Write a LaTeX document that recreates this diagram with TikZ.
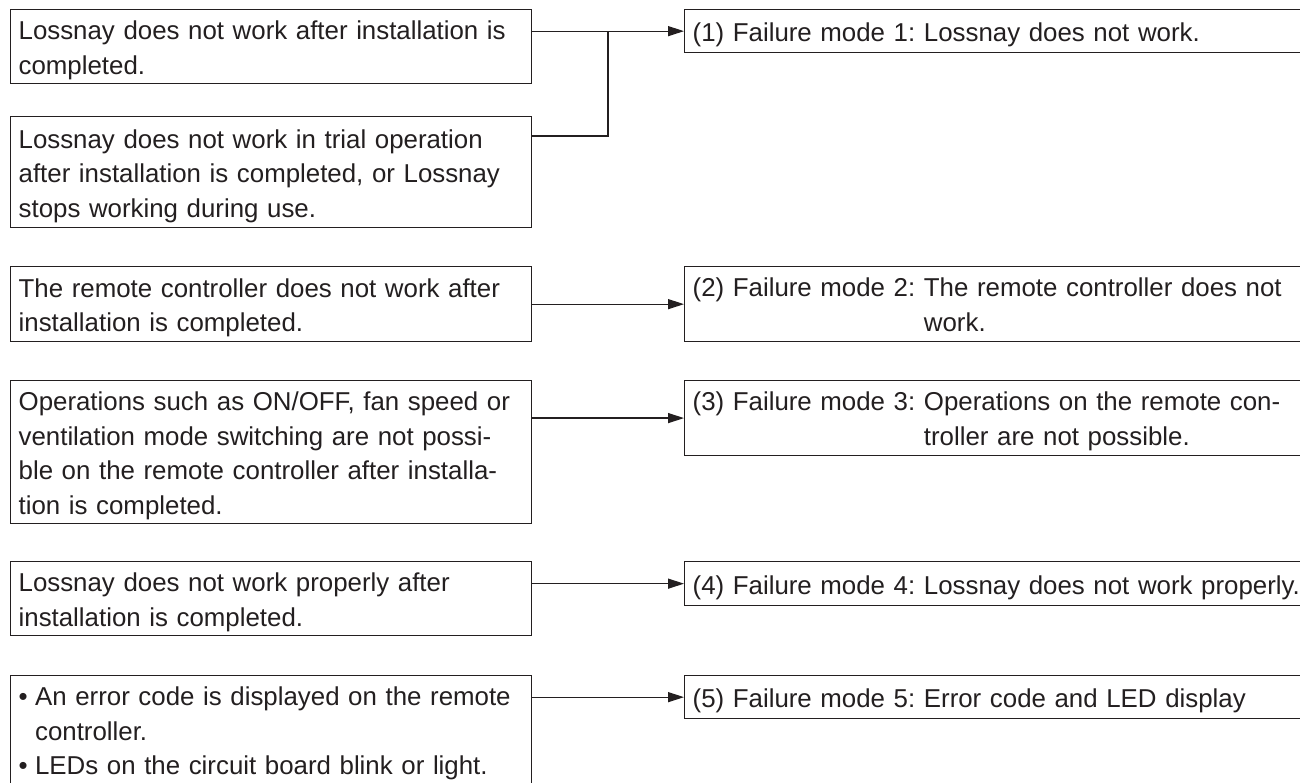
\documentclass[tikz,border=0pt]{standalone}
\usepackage{fontspec}
\newfontfamily\boxfont{Liberation Sans}
\usetikzlibrary{arrows.meta}
\definecolor{ink}{HTML}{231F20}
\tikzset{
  fbox/.style={draw=ink, text=ink, line width=1.3pt, anchor=north west,
    inner xsep=8pt, inner ysep=0pt, align=left,
    font=\boxfont\fontsize{25.85pt}{34.5pt}\selectfont\frenchspacing,
    execute at begin node={\rule{0pt}{30pt}},
    execute at end node={\rule[-9pt]{0pt}{9pt}}},
  lbox/.style={fbox, minimum width=521pt, text width=505pt},
  rbox/.style={fbox, minimum width=700pt, text width=684pt},
  conn/.style={draw=ink, line width=1.3pt},
  arr/.style={conn, -{Triangle[length=16pt,width=10pt]}},
}
\begin{document}
\begin{tikzpicture}[x=1pt,y=-1pt]
\fill[white] (0,0) rectangle (1300,782);
\useasboundingbox (0,0) rectangle (1300,782);

% left column
\node[lbox, minimum height=74pt] (B1) at (10,9)
  {Lossnay does not work after installation is\\completed.};
\node[lbox, minimum height=111pt] (B2) at (10,116)
  {Lossnay does not work in trial operation\\after installation is completed, or Lossnay\\stops working during use.};
\node[lbox, minimum height=75pt] (B3) at (10,266)
  {The remote controller does not work after\\installation is completed.};
\node[lbox, minimum height=142pt] (B4) at (10,380)
  {Operations such as ON/OFF, fan speed~or\\ventilation mode switching are not possi-\\ble on the remote controller after installa-\\tion is completed.};
\node[lbox, minimum height=74pt] (B5) at (10,561)
  {Lossnay does not work properly after\\installation is completed.};
\node[lbox] (B6) at (10,675)
  {\begin{tabular}[t]{@{}l@{\hspace{7.4pt}}l@{}}
   • & An error code is displayed on the remote\\
     & controller.\\
   • & LEDs on the circuit board blink or light.
   \end{tabular}};

% right column
\node[rbox, minimum height=43pt] (R1) at (684,9)
  {(1) Failure mode 1: Lossnay does not work.};
\node[rbox, minimum height=75pt] (R2) at (684,266)
  {(2) Failure mode 2: \begin{tabular}[t]{@{}l@{}}The remote controller does not\\work.\end{tabular}};
\node[rbox, minimum height=74pt] (R3) at (684,380)
  {(3) Failure mode 3: \begin{tabular}[t]{@{}l@{}}Operations on the remote con-\\troller are not possible.\end{tabular}};
\node[rbox, minimum height=44pt] (R4) at (684,561)
  {(4) Failure mode 4: Lossnay does not work properly.};
\node[rbox, minimum height=43pt] (R5) at (684,675)
  {(5) Failure mode 5: Error code and LED display};

% connectors
\coordinate (J) at ([xshift=-76pt]R1.west);
\draw[arr] (B1.east |- J) -- (R1.west);
\draw[conn] ([yshift=-20pt]B2.north east) -| (J);
\draw[arr] (B3.east) -- (R2.west);
\draw[arr] (B4.east |- R3.west) -- (R3.west);
\draw[arr] (B5.east |- R4.west) -- (R4.west);
\draw[arr] (B6.east |- R5.west) -- (R5.west);
\end{tikzpicture}
\end{document}
